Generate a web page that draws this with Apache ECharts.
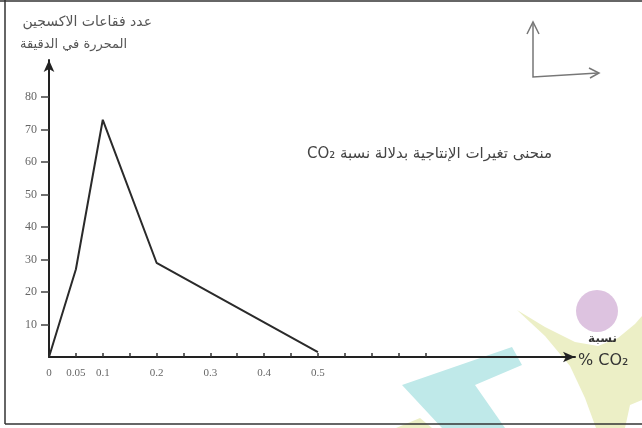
<!DOCTYPE html>
<html>
<head>
<meta charset="utf-8">
<script src="https://cdn.jsdelivr.net/npm/echarts@6/dist/echarts.min.js"></script>
<style>html,body{margin:0;padding:0;background:#fff}#c{width:642px;height:428px}</style>
</head>
<body>
<div id="c"></div>
<script>
// data
const co2Percent = [0, 0.05, 0.1, 0.2, 0.5];
const bubblesPerMin = [0, 27, 73, 29, 1.5];
const xTickValues = [0.05, 0.1, 0.15, 0.2, 0.25, 0.3, 0.35, 0.4, 0.45, 0.5, 0.55, 0.6, 0.65, 0.7];
const xLabelValues = [0, 0.05, 0.1, 0.2, 0.3, 0.4, 0.5];
const yTickValues = [10, 20, 30, 40, 50, 60, 70, 80];
const yTitleLines = ['عدد فقاعات الاكسجين', 'المحررة في الدقيقة'];
const chartTitle = 'CO₂ منحنى تغيرات الإنتاجية بدلالة نسبة';
const xNameTop = 'نسبة';
const xNameBottom = '% CO₂';

const chart = echarts.init(document.getElementById('c'));
const serif = 'Liberation Serif';
chart.setOption({
  animation: false,
  backgroundColor: '#fff',
  grid: { left: 49, right: 67, top: 60, bottom: 71 },
  xAxis: {
    type: 'value', min: 0, max: 0.978,
    splitLine: { show: false },
    axisLine: { lineStyle: { color: '#222', width: 2 }, symbol: ['none', 'arrow'], symbolSize: [8, 12] },
    axisTick: { inside: true, length: 4, lineStyle: { color: '#333', width: 1.5 }, customValues: xTickValues },
    axisLabel: { customValues: xLabelValues, color: '#666', fontFamily: serif, fontSize: 11, margin: 11,
      formatter: v => String(+v.toFixed(2)) }
  },
  yAxis: {
    type: 'value', min: 0, max: 91.4,
    splitLine: { show: false },
    axisLine: { lineStyle: { color: '#222', width: 2 }, symbol: ['none', 'arrow'], symbolSize: [8, 12] },
    axisTick: { inside: false, length: 8, lineStyle: { color: '#444', width: 1.5 }, customValues: yTickValues },
    axisLabel: { customValues: yTickValues, color: '#666', fontFamily: serif, fontSize: 12, margin: 12, padding: [0, 0, 6, 0] }
  },
  series: [{
    type: 'line',
    data: co2Percent.map((x, i) => [x, bubblesPerMin[i]]),
    showSymbol: false,
    lineStyle: { color: '#2a2a2a', width: 2 }
  }],
  graphic: [
    // scan watermark shapes
    { type: 'polygon', z: -10, shape: { points: [[517,310],[545,327],[575,342],[598,346],[618,338],[635,324],[642,316],[642,400],[630,405],[625,428],[596,428],[585,398],[570,366],[545,336]] }, style: { fill: '#ecefc6' } },
    { type: 'polygon', z: -10, shape: { points: [[396,428],[420,418],[432,428]] }, style: { fill: '#ecefc6' } },
    { type: 'polygon', z: -10, shape: { points: [[402,385],[512,347],[522,365],[475,385],[505,428],[442,428]] }, style: { fill: '#bfe9e9' } },
    { type: 'circle', z: -10, shape: { cx: 597, cy: 311, r: 21 }, style: { fill: '#ddc3e0' } },
    // frame
    { type: 'line', shape: { x1: 5, y1: 0, x2: 5, y2: 424 }, style: { stroke: '#333', lineWidth: 1.5 } },
    { type: 'line', shape: { x1: 0, y1: 1, x2: 642, y2: 1 }, style: { stroke: '#333', lineWidth: 1.5 } },
    { type: 'line', shape: { x1: 5, y1: 424, x2: 642, y2: 424 }, style: { stroke: '#333', lineWidth: 1.5 } },
    // top-right axes icon
    { type: 'polyline', shape: { points: [[533,24],[533,77],[598,73]] }, style: { stroke: '#777', lineWidth: 1.5, fill: null } },
    { type: 'polyline', shape: { points: [[527,34],[533,22],[539,34]] }, style: { stroke: '#777', lineWidth: 1.5, fill: null } },
    { type: 'polyline', shape: { points: [[589,68],[599,73],[590,78]] }, style: { stroke: '#777', lineWidth: 1.5, fill: null } },
    // texts
    { type: 'text', x: 152, y: 22, style: { text: yTitleLines[0], font: '14px "DejaVu Sans"', fill: '#555', align: 'right', verticalAlign: 'middle' } },
    { type: 'text', x: 20, y: 45, style: { text: yTitleLines[1], font: '13px "DejaVu Sans"', fill: '#555', align: 'left', verticalAlign: 'middle' } },
    { type: 'text', x: 552, y: 154, style: { text: chartTitle, font: '15px "DejaVu Sans"', fill: '#444', align: 'right', verticalAlign: 'middle' } },
    { type: 'text', x: 617, y: 339, style: { text: xNameTop, font: 'bold 12px "DejaVu Sans"', fill: '#333', align: 'right', verticalAlign: 'middle' } },
    { type: 'text', x: 578, y: 361, style: { text: xNameBottom, font: '16px "DejaVu Sans"', fill: '#333', align: 'left', verticalAlign: 'middle' } }
  ]
});
</script>
</body>
</html>
